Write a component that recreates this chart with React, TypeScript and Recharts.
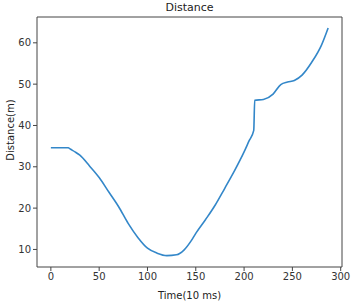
import { LineChart, Line, XAxis, YAxis, ReferenceLine } from "recharts";

const timeValues = [
  0, 10, 18, 20, 25, 30, 40, 50, 60, 70, 80, 90, 100, 110, 120, 130, 138, 145,
  150, 160, 170, 180, 190, 200, 205, 210, 211, 220, 230, 238, 245, 252, 260,
  270, 280, 287,
];
const distanceValues = [
  34.6, 34.6, 34.6, 34.3, 33.6, 32.8, 30.2, 27.4, 23.9, 20.4, 16.3, 12.9, 10.3,
  9.1, 8.5, 8.7, 9.9, 12.0, 13.9, 17.2, 20.7, 24.8, 29.0, 33.6, 36.2, 38.8,
  46.1, 46.3, 47.6, 49.9, 50.5, 50.9, 52.2, 55.3, 59.4, 63.6,
];
const xTicks = [0, 50, 100, 150, 200, 250, 300];
const yTicks = [10, 20, 30, 40, 50, 60];
const xDomain = [-14.35, 301.35];
const yDomain = [5.75, 66.25];

const data = timeValues.map((t, i) => ({ time: t, distance: distanceValues[i] }));

const axisColor = "#444";
const font = "'DejaVu Sans', sans-serif";
const tickStyle = { fontSize: 10, fill: "#333", fontFamily: font };

// y label drawn by hand, rotated around its own centre
const YLabel = () => (
  <text
    x={10}
    y={130}
    transform="rotate(-90 10 130)"
    textAnchor="middle"
    dominantBaseline="central"
    fontSize={10}
    fill="#222"
    fontFamily={font}
  >
    Distance(m)
  </text>
);

export default function App() {
  return (
    <div style={{ position: "absolute", left: 0, top: 0, width: 359, height: 301, background: "#fff" }}>
      <div
        style={{
          position: "absolute",
          left: 37,
          width: 305,
          top: 1,
          textAlign: "center",
          fontFamily: font,
          fontSize: 11,
          color: "#222",
        }}
      >
        Distance
      </div>
      <LineChart
        width={359}
        height={301}
        data={data}
        margin={{ top: 17, right: 17, bottom: 0, left: 0 }}
      >
        <XAxis
          dataKey="time"
          type="number"
          domain={xDomain}
          ticks={xTicks}
          allowDataOverflow
          height={34}
          tickSize={4}
          stroke={axisColor}
          tick={tickStyle}
          label={{
            value: "Time(10 ms)",
            position: "insideBottom",
            offset: 2,
            style: { fontSize: 10, fill: "#222", fontFamily: font },
          }}
        />
        <YAxis
          type="number"
          domain={yDomain}
          ticks={yTicks}
          allowDataOverflow
          width={37}
          tickSize={4}
          stroke={axisColor}
          tick={tickStyle}
          label={{ content: () => <YLabel /> }}
        />
        <ReferenceLine y={yDomain[1]} stroke={axisColor} ifOverflow="visible" />
        <ReferenceLine x={xDomain[1]} stroke={axisColor} ifOverflow="visible" />
        <Line
          type="monotone"
          dataKey="distance"
          stroke="#3387c9"
          strokeWidth={1.6}
          dot={false}
          isAnimationActive={false}
        />
      </LineChart>
    </div>
  );
}
